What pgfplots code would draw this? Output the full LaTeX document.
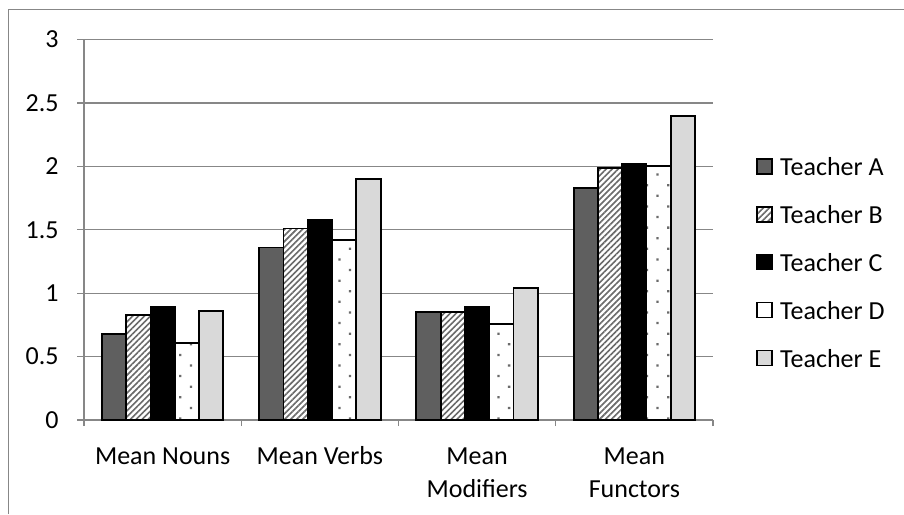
\documentclass[border=0pt]{standalone}
\usepackage{fontspec}
\setmainfont{Carlito}
\usepackage{pgfplots}
\pgfplotsset{compat=1.18}
\usetikzlibrary{patterns.meta}

\definecolor{teacherA}{HTML}{5F5F5F}
\definecolor{teacherE}{HTML}{D9D9D9}
\definecolor{gridgray}{HTML}{878787}
\definecolor{patgray}{HTML}{6A6A6A}

\pgfplotsset{
  sq legend/.style={
    legend image code/.code={
      \draw[##1, line width=0.7pt] (0pt,-2.1pt) rectangle (7.5pt,5.4pt);
    }
  }
}

\begin{document}
\begin{tikzpicture}
\useasboundingbox (0,0) rectangle (452pt,257pt);
% frame of the chart area
\draw[gridgray, line width=0.5pt] (4.15pt,0pt) -- (4.15pt,252pt) -- (452pt,252pt);

\begin{axis}[
  at={(42pt,47pt)}, anchor=south west,
  scale only axis,
  width=314.5pt, height=190.25pt,
  ybar=0pt, bar width=12.15pt,
  xmin=-0.5, xmax=3.5,
  ymin=0, ymax=3,
  ytick={0,0.5,...,3},
  xtick={0,1,2,3},
  xticklabels={\vphantom{b}Mean Nouns, \vphantom{b}Mean Verbs,
    {\vphantom{b}Mean\\Modifiers}, {\vphantom{b}Mean\\Functors}},
  minor xtick={-0.5,0.5,1.5,2.5,3.5},
  axis x line*=bottom, axis y line*=left,
  axis line style={gridgray, line width=0.6pt},
  ymajorgrids, grid style={gridgray, line width=0.6pt},
  tick align=outside,
  major tick length=3.5pt, minor tick length=3pt,
  tick style={gridgray, line width=0.6pt},
  x tick style={draw=none},
  minor x tick style={draw=gridgray, line width=0.6pt},
  /pgf/number format/assume math mode=true,
  /pgf/number format/.cd, fixed, precision=1, /pgfplots/.cd,
  ticklabel style={font=\fontsize{13}{16.5}\selectfont},
  yticklabel style={anchor=east, inner sep=0pt, xshift=-9pt},
  xticklabel style={anchor=north, inner sep=0pt, align=center, yshift=-9.5pt},
  legend style={
    draw=none, fill=none,
    at={(1.0684,0.406)}, anchor=west,
    font=\fontsize{13}{16.5}\selectfont,
    inner sep=0pt, row sep=11.9pt,
    nodes={inner sep=0pt, text height=9pt, text depth=3pt},
    /tikz/every odd column/.append style={column sep=3.7pt},
  },
  legend cell align=left,
]
\addplot[sq legend, draw=black, line width=0.9pt, fill=teacherA]
  coordinates {(0,0.68) (1,1.36) (2,0.85) (3,1.83)};
\addplot[sq legend, draw=black, line width=0.9pt, preaction={fill=white},
  pattern={Lines[angle=45, distance=2.1pt, line width=0.8pt]}, pattern color=patgray]
  coordinates {(0,0.83) (1,1.51) (2,0.85) (3,1.99)};
\addplot[sq legend, draw=black, line width=0.9pt, fill=black]
  coordinates {(0,0.89) (1,1.58) (2,0.89) (3,2.02)};
\addplot[sq legend, draw=black, line width=0.9pt, preaction={fill=white},
  pattern={Dots[angle=45, distance=7.5pt, radius=0.8pt]}, pattern color=patgray]
  coordinates {(0,0.61) (1,1.42) (2,0.76) (3,2.00)};
\addplot[sq legend, draw=black, line width=0.9pt, fill=teacherE]
  coordinates {(0,0.86) (1,1.90) (2,1.04) (3,2.40)};
\legend{Teacher A, Teacher B, Teacher C, Teacher D, Teacher E}
\end{axis}
\end{tikzpicture}
\end{document}
